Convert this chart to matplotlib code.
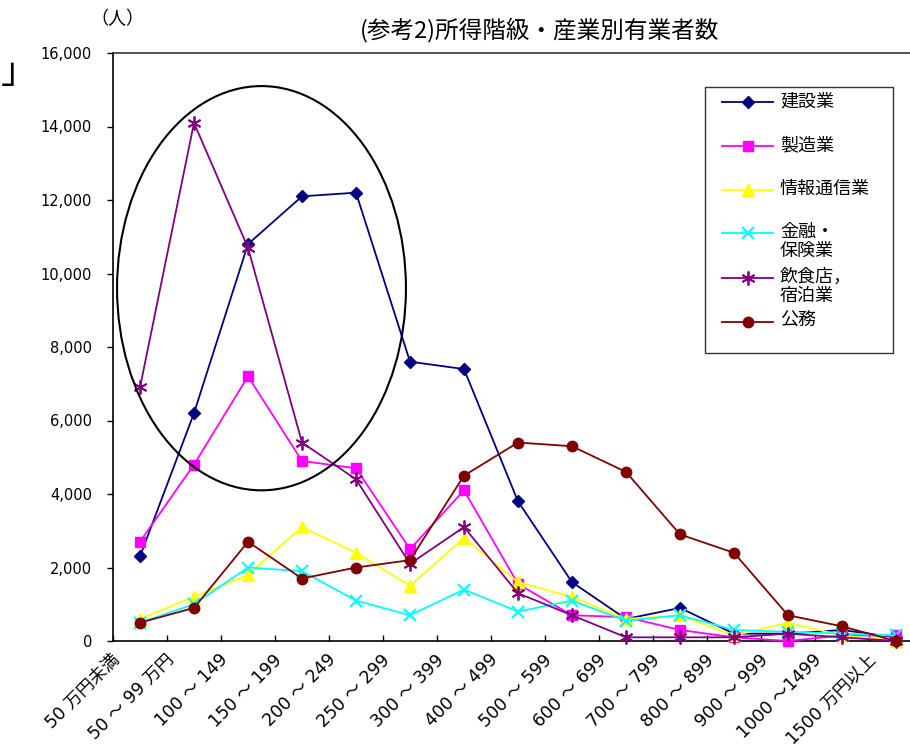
import numpy as np
import matplotlib
matplotlib.use("Agg")
import matplotlib.pyplot as plt
from matplotlib.lines import Line2D
from matplotlib.patches import Ellipse, Rectangle
from matplotlib.transforms import ScaledTranslation
from matplotlib.ticker import FuncFormatter

plt.rcParams['font.family'] = ['DejaVu Sans', 'Noto Sans CJK JP']

# 所得階級（万円）
categories = ["50 万円未満", "50 ～ 99 万円", "100 ～ 149", "150 ～ 199", "200 ～ 249",
              "250 ～ 299", "300 ～ 399", "400 ～ 499", "500 ～ 599", "600 ～ 699",
              "700 ～ 799", "800 ～ 899", "900 ～ 999", "1000 ～1499", "1500 万円以上"]

# 産業別有業者数（人）
construction = [2300, 6200, 10800, 12100, 12200, 7600, 7400, 3800, 1600, 600, 900, 200, 200, 300, 100]
manufacturing = [2700, 4800, 7200, 4900, 4700, 2500, 4100, 1550, 700, 650, 300, 100, 0, 150, 150]
info_comm = [600, 1200, 1800, 3100, 2400, 1500, 2800, 1600, 1200, 600, 700, 150, 500, 150, 0]
finance = [500, 1000, 2000, 1900, 1100, 700, 1400, 800, 1100, 550, 700, 300, 250, 200, 150]
hospitality = [6900, 14100, 10700, 5400, 4400, 2100, 3100, 1300, 700, 100, 100, 100, 200, 100, 0]
public_service = [500, 900, 2700, 1700, 2000, 2200, 4500, 5400, 5300, 4600, 2900, 2400, 700, 400, 0]

series_names = ["建設業", "製造業", "情報通信業", "金融・\n保険業", "飲食店，\n宿泊業", "公務"]
y_ticks = list(range(0, 16001, 2000))

W, H = 910, 747
fig = plt.figure(figsize=(W / 100, H / 100), dpi=100)


def px(x, y):
    """Pixel position (origin top-left) -> figure fraction."""
    return x / W, 1 - y / H


ax = fig.add_axes([113 / W, 106 / H, 810 / W, 588 / H])

styles = [
    dict(color="#000080", marker="D", markersize=6.5),
    dict(color="#FF00FF", marker="s", markersize=6.5),
    dict(color="#FFFF00", marker="^", markersize=8.5),
    dict(color="#00FFFF", marker="x", markersize=8, markeredgewidth=1.5),
    dict(color="#800080", marker=(6, 2, 0), markersize=10, markeredgewidth=1.3),
    dict(color="#800000", marker="o", markersize=7.5),
]
all_series = [construction, manufacturing, info_comm, finance, hospitality, public_service]

x = np.arange(len(categories))
for vals, st in zip(all_series, styles):
    ax.plot(x, vals, linewidth=1.3, clip_on=False, zorder=3, **st)

ax.set_xlim(-0.5, len(categories) - 0.5)
ax.set_ylim(0, 16000)

for side in ("left", "bottom", "top"):
    ax.spines[side].set_linewidth(1.2)
    ax.spines[side].set_color("black")
ax.spines["top"].set_color("#333333")
ax.spines["right"].set_visible(False)

ax.set_yticks(y_ticks)
ax.yaxis.set_major_formatter(FuncFormatter(lambda v, p: f"{int(v):,}"))
ax.tick_params(axis="y", direction="out", length=4, width=1, pad=11, labelsize=10.5)

# category boundaries carry the tick marks, centres carry the labels
ax.set_xticks(np.arange(-0.5, len(categories), 1))
ax.set_xticklabels([])
ax.tick_params(axis="x", which="major", direction="in", length=4, width=1)
ax.set_xticks(x, minor=True)
ax.set_xticklabels(categories, minor=True, rotation=45, ha="right", va="top",
                   rotation_mode="anchor", fontsize=12.5)
ax.tick_params(axis="x", which="minor", length=0, pad=7)
shift = ScaledTranslation(-0.29, 0, fig.dpi_scale_trans)
for lab in ax.get_xticklabels(minor=True):
    lab.set_transform(lab.get_transform() + shift)

# highlight of the low-income peak
ax.add_patch(Ellipse((2.25, 9600), 5.35, 11000, fill=False, edgecolor="black",
                     linewidth=1.5, zorder=4))

# titles
fig.text(*px(540, 30), "(参考2)所得階級・産業別有業者数", ha="center", va="center",
         fontsize=17, family=["Noto Sans CJK JP"])
fig.text(*px(117, 19), "（人）", ha="center", va="center", fontsize=13,
         family=["Noto Sans CJK JP"])
fig.text(*px(19, 73), "」", ha="center", va="center", fontsize=26,
         family=["Noto Sans CJK JP"])

# legend
fig.add_artist(Rectangle(px(705, 353), (893 - 705) / W, (353 - 87) / H,
                         transform=fig.transFigure, facecolor="white",
                         edgecolor="#333333", linewidth=1, zorder=5))
legend_rows = [102, 146, 190, 233, 278, 322]
for name, st, yrow in zip(series_names, styles, legend_rows):
    xs = [722 / W, 747.5 / W, 773 / W]
    yf = 1 - yrow / H
    fig.add_artist(Line2D(xs, [yf] * 3, transform=fig.transFigure, linewidth=1.3,
                          markevery=[1], zorder=6, **st))
    fig.text(780 / W, 1 - (yrow - 10) / H, name, ha="left", va="top", fontsize=13,
             linespacing=1.05, family=["Noto Sans CJK JP"], zorder=6)

fig.savefig("out.png", dpi=100)
